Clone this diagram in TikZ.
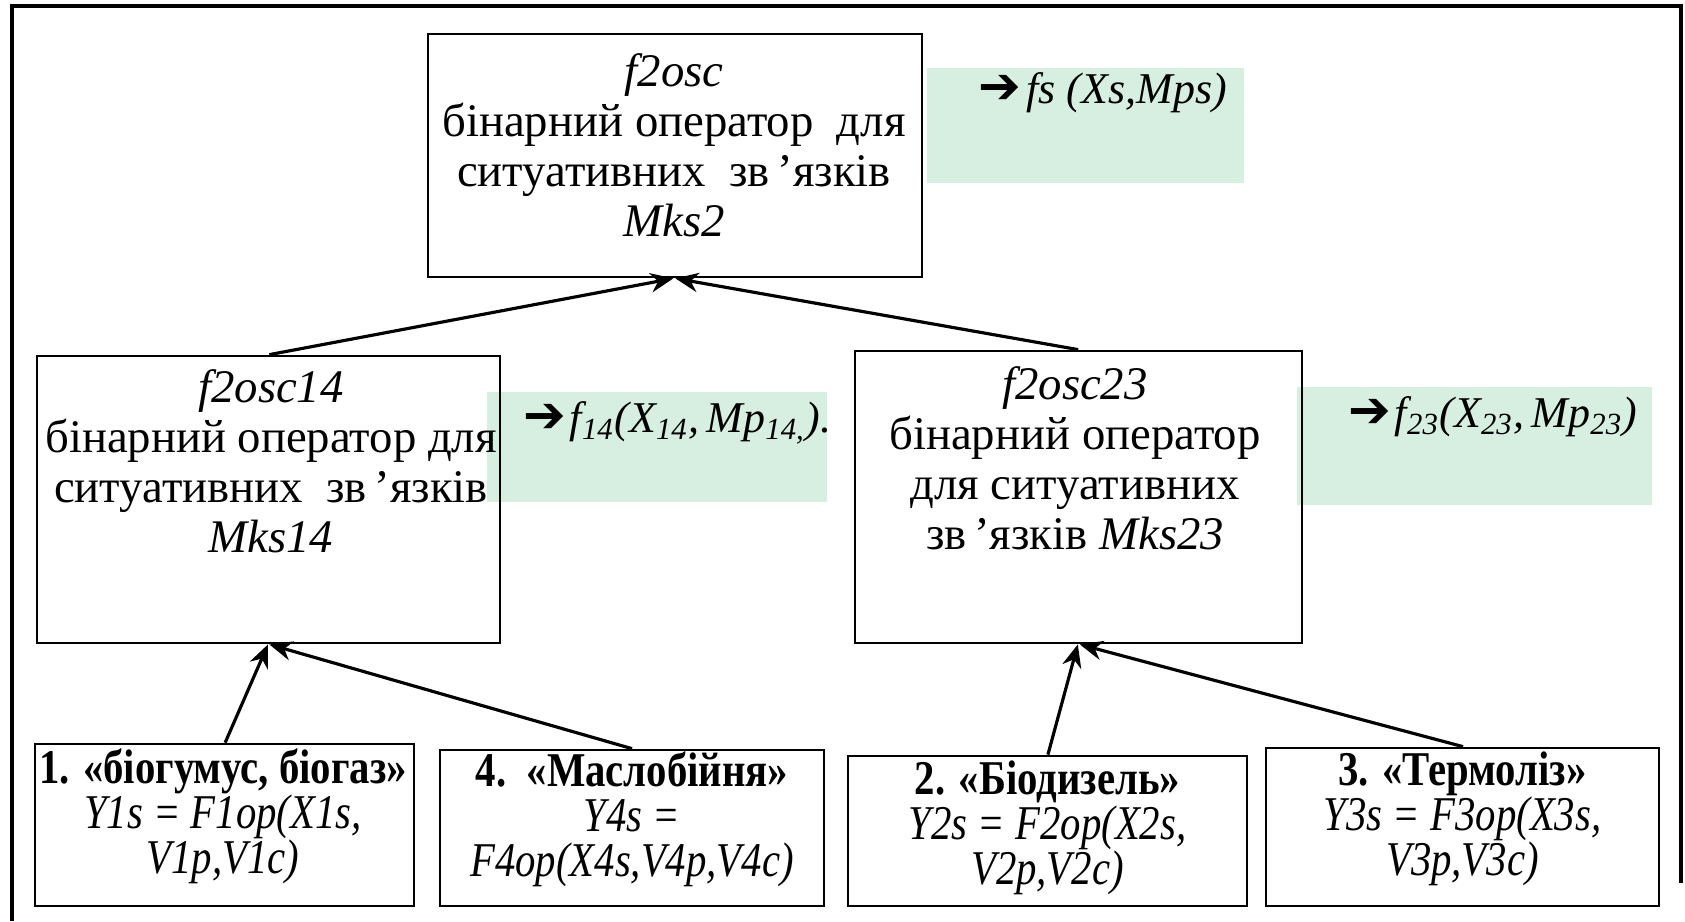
\documentclass[tikz,border=0pt]{standalone}
\usepackage{fontspec}
\setmainfont{Liberation Serif}
\newfontfamily\narrowfont[FakeStretch=0.84]{Liberation Serif}
\newfontfamily\symfont{DejaVu Sans}
\usetikzlibrary{arrows.meta}
\definecolor{bandgreen}{RGB}{214,239,224}

\begin{document}
\begin{tikzpicture}[scale=0.1]
    \tikzstyle{every node}+=[inner sep=0pt]
    \tikzstyle{opbox}=[draw=black, line width=0.8pt, rectangle]
    \tikzstyle{optext}=[align=center, font=\fontsize{13.3}{14.2}\selectfont]
    \tikzstyle{unittext}=[align=center, font=\narrowfont\fontsize{13.8}{12.8}\selectfont]
    \tikzstyle{outtext}=[anchor=west, font=\fontsize{12.5}{14}\selectfont]
    \tikzstyle{link}=[black, line width=0.9pt, -{Stealth[length=6.5pt,width=5.5pt]}]
    \useasboundingbox (0,0) rectangle (168.5,-92.1);
    % outer frame
    \draw [black, line width=1pt] (1.2,-92.1) -- (1.2,-0.6) -- (168.1,-0.6) -- (168.1,-88.3);
    % green output bands
    \fill [bandgreen] (92.7,-6.8) rectangle (124.4,-18.3);
    \fill [bandgreen] (48.7,-39.2) rectangle (82.7,-50.2);
    \fill [bandgreen] (129.7,-38.7) rectangle (165.2,-50.5);
    \node [outtext] (fs) at (97.8,-9.3) {{\symfont\bfseries\fontsize{14.5}{14.5}\selectfont ➔}\kern1.5pt\textit{fs (Xs,Mps)}};
    \node [outtext] (f14) at (52.3,-42.3) {{\symfont\bfseries\fontsize{14.5}{14.5}\selectfont ➔}\kern1pt\textit{f\textsubscript{14}(X\textsubscript{14},\,Mp\textsubscript{14,}).}};
    \node [outtext] (f23) at (134.8,-41.7) {{\symfont\bfseries\fontsize{14.5}{14.5}\selectfont ➔}\kern1pt\textit{f\textsubscript{23}(X\textsubscript{23},\,Mp\textsubscript{23})}};
    % operator boxes
    \node [opbox, minimum width=4.94cm, minimum height=2.43cm] (top) at (67.5,-15.55) {};
    \node [optext] (topt) at (67.4,-14.5) {\textit{f2osc}\\бінарний оператор\ \ для\\ситуативних\ \ зв\,’язків\\\textit{Mks2}};
    \node [opbox, minimum width=4.63cm, minimum height=2.87cm] (m14) at (26.85,-49.95) {};
    \node [optext] (m14t) at (27.1,-46.1) {\textit{f2osc14}\\бінарний оператор для\\ситуативних\ \ зв\,’язків\\\textit{Mks14}};
    \node [opbox, minimum width=4.47cm, minimum height=2.92cm] (m23) at (107.85,-49.7) {};
    \node [optext] (m23t) at (107.5,-45.8) {\textit{f2osc23}\\бінарний оператор\\для ситуативних\\зв\,’язків \textit{Mks23}};
    % unit boxes
    \node [opbox, minimum width=3.79cm, minimum height=1.62cm] (b1) at (22.45,-82.5) {};
    \node [unittext] (b1t) at (22.3,-81.6) {\textbf{1. «біогумус, біогаз»}\\\textit{Y1s = F1op(X1s,}\\\textit{V1p,V1c)}};
    \node [opbox, minimum width=3.84cm, minimum height=1.56cm] (b4) at (63.2,-82.8) {};
    \node [unittext] (b4t) at (63.2,-81.9) {\textbf{4.\ \ «Маслобійня»}\\\textit{Y4s =}\\\textit{F4op(X4s,V4p,V4c)}};
    \node [opbox, minimum width=3.99cm, minimum height=1.50cm] (b2) at (104.75,-83.1) {};
    \node [unittext] (b2t) at (104.75,-82.8) {\textbf{2. «Біодизель»}\\\textit{Y2s = F2op(X2s,}\\\textit{V2p,V2c)}};
    \node [opbox, minimum width=3.93cm, minimum height=1.58cm] (b3) at (146.25,-82.7) {};
    \node [unittext] (b3t) at (146.25,-81.9) {\textbf{3. «Термоліз»}\\\textit{Y3s = F3op(X3s,}\\\textit{V3p,V3c)}};
    % links
    \draw [link] ([xshift=0.85mm]m14.north) -- ([xshift=-1.7mm]top.south);
    \draw [link] ([xshift=-0.35mm]m23.north) -- ([xshift=0.4mm]top.south);
    \draw [link] ([xshift=0.65mm]b1.north) -- ([xshift=-0.55mm]m14.south);
    \draw [link] (b4.north) -- ([xshift=0.85mm]m14.south);
    \draw [link] ([xshift=0.35mm]b2.north) -- ([xshift=-0.75mm]m23.south);
    \draw [link] ([xshift=0.45mm]b3.north) -- ([xshift=1.25mm]m23.south);
\end{tikzpicture}
\end{document}
